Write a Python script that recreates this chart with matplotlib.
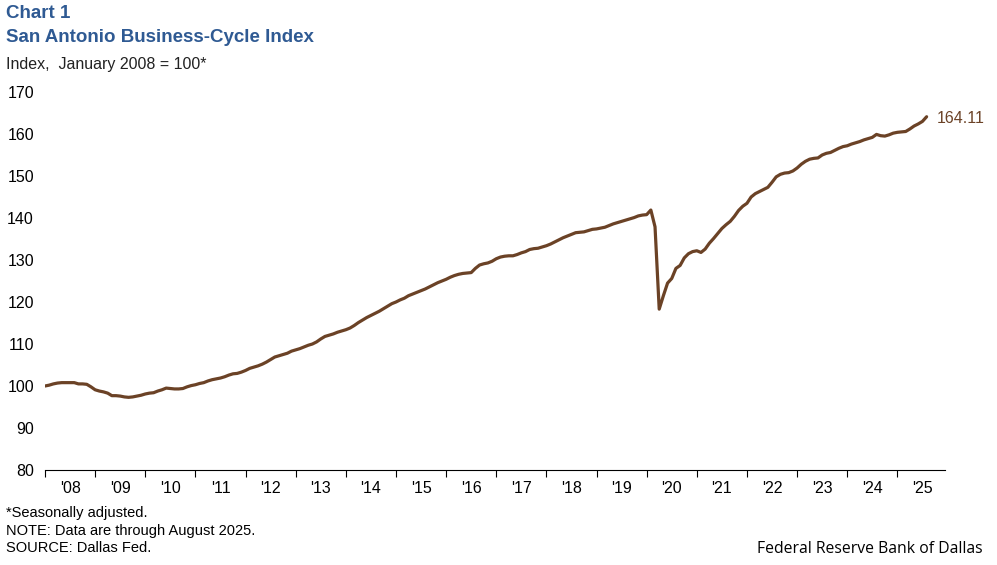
import numpy as np
import matplotlib.pyplot as plt

plt.rcParams['font.family'] = ['Liberation Sans', 'DejaVu Sans']

# monthly index values, Jan 2008 .. Aug 2025
idx_2008 = [100.0, 100.2, 100.5, 100.7, 100.8, 100.8, 100.8, 100.8, 100.5, 100.5, 100.4, 99.8]
idx_2009 = [99.1, 98.8, 98.6, 98.3, 97.7, 97.7, 97.6, 97.4, 97.3, 97.4, 97.6, 97.8]
idx_2010 = [98.1, 98.3, 98.4, 98.8, 99.1, 99.5, 99.4, 99.3, 99.3, 99.4, 99.8, 100.1]
idx_2011 = [100.3, 100.6, 100.8, 101.2, 101.5, 101.7, 101.9, 102.2, 102.6, 102.9, 103.0, 103.3]
idx_2012 = [103.7, 104.2, 104.5, 104.8, 105.2, 105.7, 106.3, 106.9, 107.2, 107.5, 107.8, 108.3]
idx_2013 = [108.6, 108.9, 109.3, 109.7, 110.0, 110.5, 111.2, 111.8, 112.1, 112.4, 112.8, 113.1]
idx_2014 = [113.4, 113.8, 114.4, 115.1, 115.7, 116.3, 116.8, 117.3, 117.8, 118.4, 119.0, 119.6]
idx_2015 = [120.0, 120.5, 120.9, 121.5, 121.9, 122.3, 122.7, 123.1, 123.6, 124.1, 124.6, 125.0]
idx_2016 = [125.4, 125.9, 126.3, 126.6, 126.8, 126.9, 127.0, 128.0, 128.8, 129.1, 129.3, 129.7]
idx_2017 = [130.3, 130.7, 130.9, 131.0, 131.0, 131.3, 131.7, 132.0, 132.5, 132.7, 132.8, 133.1]
idx_2018 = [133.4, 133.8, 134.3, 134.8, 135.3, 135.7, 136.1, 136.5, 136.6, 136.7, 137.0, 137.3]
idx_2019 = [137.4, 137.6, 137.8, 138.2, 138.6, 138.9, 139.2, 139.5, 139.8, 140.1, 140.5, 140.7]
idx_2020 = [140.8, 141.9, 137.9, 118.3, 121.5, 124.5, 125.6, 128.0, 128.7, 130.5, 131.5, 132.0]
idx_2021 = [132.2, 131.8, 132.6, 134.0, 135.1, 136.3, 137.5, 138.4, 139.2, 140.4, 141.8, 142.8]
idx_2022 = [143.5, 145.0, 145.8, 146.3, 146.8, 147.3, 148.5, 149.8, 150.4, 150.7, 150.8, 151.2]
idx_2023 = [151.9, 152.8, 153.5, 154.0, 154.2, 154.3, 155.0, 155.4, 155.6, 156.1, 156.6, 157.0]
idx_2024 = [157.2, 157.6, 157.9, 158.2, 158.6, 158.9, 159.2, 159.9, 159.6, 159.5, 159.8, 160.2]
idx_2025 = [160.4, 160.5, 160.6, 161.2, 161.9, 162.4, 163.0, 164.11]

values = (idx_2008 + idx_2009 + idx_2010 + idx_2011 + idx_2012 + idx_2013 + idx_2014
          + idx_2015 + idx_2016 + idx_2017 + idx_2018 + idx_2019 + idx_2020 + idx_2021
          + idx_2022 + idx_2023 + idx_2024 + idx_2025)
years = list(range(2008, 2026))
year_labels = ["'%02d" % (y % 100) for y in years]
y_ticks = [80, 90, 100, 110, 120, 130, 140, 150, 160, 170]

LINE = '#6b4226'
TITLE = '#2f5a93'

x = 2008 + np.arange(len(values)) / 12.0

fig = plt.figure(figsize=(9.97, 5.65), dpi=100)
ax = fig.add_axes([45 / 997, 95 / 565, 900 / 997, 378 / 565])
ax.plot(x, values, color=LINE, lw=2.3, solid_capstyle='round', solid_joinstyle='round')

ax.set_xlim(2008, 2025.95)
ax.set_ylim(80, 170)
ax.set_yticks(y_ticks)
ax.set_yticklabels([str(v) for v in y_ticks], fontsize=11.5)
ax.tick_params(axis='y', length=0, pad=8)
ax.set_xticks(years)
ax.set_xticklabels([])
ax.set_xticks([y + 0.5 for y in years], minor=True)
ax.set_xticklabels(year_labels, minor=True, fontsize=11.5)
ax.tick_params(axis='x', which='major', length=5, direction='out', width=0.8)
ax.tick_params(axis='x', which='minor', length=0, pad=8)
for s in ['top', 'right', 'left']:
    ax.spines[s].set_visible(False)
ax.spines['bottom'].set_linewidth(0.8)

ax.annotate('164.11', xy=(x[-1], values[-1]), xytext=(7, -1), textcoords='offset points',
            color=LINE, fontsize=11.5, va='center', ha='left')

fig.text(6 / 997, 1 - 14 / 565, 'Chart 1', fontsize=13.5, fontweight='bold', color=TITLE, va='center')
fig.text(6 / 997, 1 - 38 / 565, 'San Antonio Business-Cycle Index', fontsize=13.5, fontweight='bold',
         color=TITLE, va='center')
fig.text(6 / 997, 1 - 65 / 565, 'Index,  January 2008 = 100*', fontsize=11.5, color='#222222', va='center')

fig.text(6 / 997, 1 - 513 / 565, '*Seasonally adjusted.', fontsize=10.5, va='center')
fig.text(6 / 997, 1 - 531 / 565, 'NOTE: Data are through August 2025.', fontsize=10.5, va='center')
fig.text(6 / 997, 1 - 548 / 565, 'SOURCE: Dallas Fed.', fontsize=10.5, va='center')
fig.text(983 / 997, 1 - 549 / 565, 'Federal Reserve Bank of Dallas', fontsize=11.3,
         family=['Open Sans', 'DejaVu Sans'], ha='right', va='center')

fig.savefig('out.png', dpi=100)
